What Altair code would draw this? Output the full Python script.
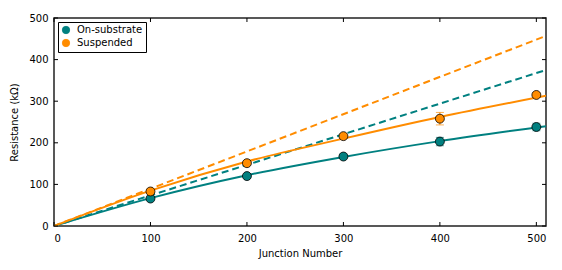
import altair as alt
import pandas as pd

# Measured points
junctions = [100, 200, 300, 400, 500]
on_sub = [66, 120, 167, 203, 238]
on_sub_err = [3, 3, 4, 10, 9]
susp = [83, 151, 216, 258, 315]
susp_err = [3, 3, 4, 15, 5]

# Fit curves
fit_x = [0, 100, 200, 300, 400, 510]
fit_on_sub = [0, 67, 122, 166, 204, 240]
fit_susp = [0, 85, 155, 210, 262, 313]

# Linear extrapolations
lin_x = [0, 510]
lin_on_sub = [0, 375]
lin_susp = [0, 457]

x_ticks = [0, 100, 200, 300, 400, 500]
y_ticks = [0, 100, 200, 300, 400, 500]

series = ["On-substrate", "Suspended"]
colors = ["#008080", "#ff8c00"]

pts = pd.DataFrame({
    "N": junctions * 2,
    "R": on_sub + susp,
    "lo": [r - e for r, e in zip(on_sub, on_sub_err)] + [r - e for r, e in zip(susp, susp_err)],
    "hi": [r + e for r, e in zip(on_sub, on_sub_err)] + [r + e for r, e in zip(susp, susp_err)],
    "s": [series[0]] * 5 + [series[1]] * 5,
})
fit = pd.DataFrame({"N": fit_x * 2, "R": fit_on_sub + fit_susp,
                    "s": [series[0]] * len(fit_x) + [series[1]] * len(fit_x)})
lin = pd.DataFrame({"N": lin_x * 2, "R": lin_on_sub + lin_susp,
                    "s": [series[0]] * 2 + [series[1]] * 2})

xs = alt.Scale(domain=[0, 510], nice=False, zero=False)
ys = alt.Scale(domain=[0, 500], nice=False)
cs = alt.Scale(domain=series, range=colors)

xax = alt.Axis(values=x_ticks, title="Junction Number", ticks=False, grid=False,
               labelPadding=7, titlePadding=5)
yax = alt.Axis(values=y_ticks, title="Resistance (kΩ)", ticks=False, grid=False,
               labelPadding=6, titlePadding=9)

X = alt.X("N:Q", scale=xs, axis=xax)
Y = alt.Y("R:Q", scale=ys, axis=yax)

leg = alt.Legend(
    title=None, orient="top-left", offset=4, strokeColor="black", fillColor="white",
    padding=3, labelFontSize=10, labelFont="DejaVu Sans", symbolSize=55,
    symbolType="circle", rowPadding=1, labelColor="black", labelOffset=6,
    symbolStrokeColor="black", symbolStrokeWidth=0.8, symbolOpacity=1)
C = alt.Color("s:N", scale=cs, legend=leg)

dashed = alt.Chart(lin).mark_line(strokeDash=[7, 4], strokeWidth=2, clip=True).encode(
    x=X, y=Y, color=C, detail="s:N")
solid = alt.Chart(fit).mark_line(strokeWidth=2, interpolate="monotone", clip=True).encode(
    x=X, y=Y, color=C, detail="s:N")
bars = alt.Chart(pts).mark_rule(strokeWidth=1).encode(
    x=X, y=alt.Y("lo:Q", scale=ys), y2="hi:Q", color=C)
caps_lo = alt.Chart(pts).mark_tick(orient="horizontal", size=8, thickness=1).encode(
    x=X, y=alt.Y("lo:Q", scale=ys), color=C)
caps_hi = alt.Chart(pts).mark_tick(orient="horizontal", size=8, thickness=1).encode(
    x=X, y=alt.Y("hi:Q", scale=ys), color=C)
points = alt.Chart(pts).mark_point(filled=True, size=80, stroke="black", strokeWidth=0.8,
                                   opacity=1, shape="circle").encode(
    x=X, y=Y, color=C)

# inward ticks
tdx = pd.DataFrame({"N": x_ticks})
tdy = pd.DataFrame({"R": y_ticks})
H = 208
W = 492
tick_b = alt.Chart(tdx).mark_rule(color="black", strokeWidth=1).encode(
    x=alt.X("N:Q", scale=xs), y=alt.value(H), y2=alt.value(H - 4))
tick_t = alt.Chart(tdx).mark_rule(color="black", strokeWidth=1).encode(
    x=alt.X("N:Q", scale=xs), y=alt.value(0), y2=alt.value(4))
tick_l = alt.Chart(tdy).mark_rule(color="black", strokeWidth=1).encode(
    y=alt.Y("R:Q", scale=ys), x=alt.value(0), x2=alt.value(4))
tick_r = alt.Chart(tdy).mark_rule(color="black", strokeWidth=1).encode(
    y=alt.Y("R:Q", scale=ys), x=alt.value(W), x2=alt.value(W - 4))

chart = alt.layer(dashed, solid, bars, caps_lo, caps_hi, points,
                  tick_b, tick_t, tick_l, tick_r).properties(
    width=W, height=H,
    autosize=alt.AutoSizeParams(type="none"),
    padding={"left": 46, "top": 10, "right": 8, "bottom": 36},
).configure_view(stroke="#222222", strokeWidth=1.5).configure_axis(
    domain=False, labelFont="DejaVu Sans", titleFont="DejaVu Sans",
    labelFontSize=10, titleFontSize=10, labelColor="black", titleColor="black",
    titleFontWeight="normal")

chart.save("out.html", embed_options={"renderer": "svg", "actions": False})
